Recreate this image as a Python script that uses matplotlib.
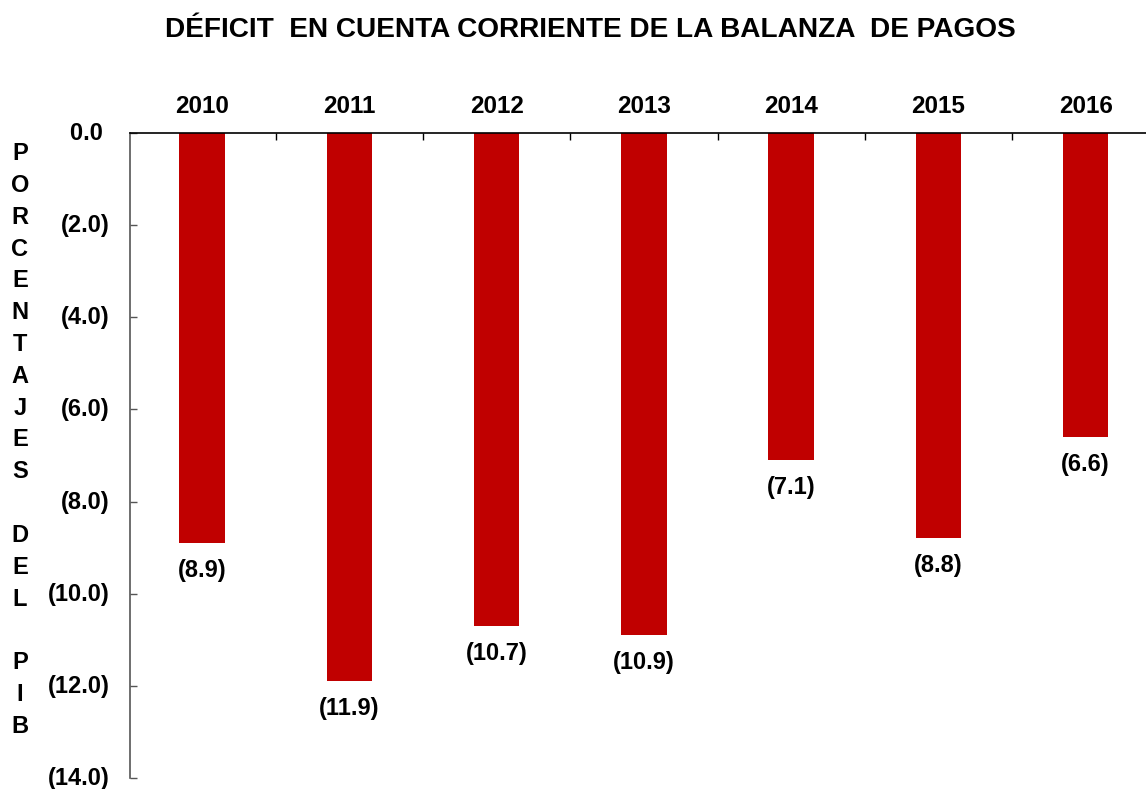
import matplotlib.pyplot as plt
import matplotlib.transforms as mtransforms
import numpy as np

# datos
anios = ['2010', '2011', '2012', '2013', '2014', '2015', '2016']
deficit = [-8.9, -11.9, -10.7, -10.9, -7.1, -8.8, -6.6]
etiquetas = ['(8.9)', '(11.9)', '(10.7)', '(10.9)', '(7.1)', '(8.8)', '(6.6)']
yticks = [0, -2, -4, -6, -8, -10, -12, -14]
ytick_labels = ['0.0 ', '(2.0)', '(4.0)', '(6.0)', '(8.0)', '(10.0)', '(12.0)', '(14.0)']
ylabel_letras = 'PORCENTAJES DEL PIB'

plt.rcParams['font.family'] = ['Liberation Sans', 'DejaVu Sans']
plt.rcParams['font.weight'] = 'bold'

fig = plt.figure(figsize=(11.46, 7.89), dpi=100)
ax = fig.add_axes([130/1146, 1 - 778/789, 1 - 130/1146, (778 - 133)/789])

x = np.arange(len(anios))
ax.bar(x, deficit, width=0.31, color='#C00000', linewidth=0)

for xi, v, lab in zip(x, deficit, etiquetas):
    ax.annotate(lab, (xi, v), xytext=(0, -19.5), textcoords='offset points',
                ha='center', va='center', fontsize=17, fontweight='bold')

ax.set_ylim(-14, 0)
ax.set_xlim(-0.49, 6.41)

# eje x arriba
ax.xaxis.tick_top()
ax.set_xticks(x)
ax.set_xticklabels(anios, fontsize=17.5, fontweight='bold')
ax.tick_params(axis='x', which='major', length=0, pad=11)
ax.set_xticks(x[:-1] + 0.5, minor=True)
ax.tick_params(axis='x', which='minor', direction='in', length=5, width=1, color='black')

ax.set_yticks(yticks)
ax.set_yticklabels(ytick_labels, fontsize=17, fontweight='bold')
ax.tick_params(axis='y', direction='in', length=5, width=1, color='#555555', pad=14.5)
# subir un poco las etiquetas del eje y
subir = mtransforms.ScaledTranslation(0, 2/100, fig.dpi_scale_trans)
for lbl in ax.get_yticklabels():
    lbl.set_transform(lbl.get_transform() + subir)

ax.spines['bottom'].set_visible(False)
ax.spines['right'].set_visible(False)
ax.spines['top'].set_color('black')
ax.spines['top'].set_linewidth(1.2)
ax.spines['left'].set_color('#555555')
ax.spines['left'].set_linewidth(1.2)

# titulo del eje y en vertical, letra por letra
texto_y = '\n'.join(ylabel_letras)
fig.text(20/1146, 1 - 440/789, texto_y, ha='center', va='center',
         fontsize=17, fontweight='bold', linespacing=1.49)

fig.text(590/1146, 1 - 30/789, 'DÉFICIT  EN CUENTA CORRIENTE DE LA BALANZA  DE PAGOS',
         ha='center', va='center', fontsize=20.2, fontweight='bold')

fig.savefig('out.png', dpi=100)
